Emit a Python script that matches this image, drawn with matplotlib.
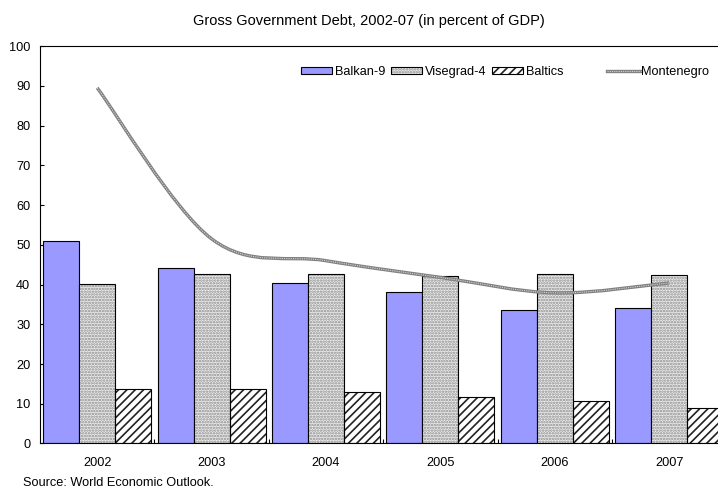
import numpy as np
import matplotlib
matplotlib.use("Agg")
import matplotlib.pyplot as plt
from matplotlib.path import Path
from matplotlib.patches import PathPatch, Patch
from matplotlib.lines import Line2D
from matplotlib.legend_handler import HandlerTuple

plt.rcParams["font.family"] = ["Liberation Sans", "DejaVu Sans"]
plt.rcParams["font.size"] = 9.2
plt.rcParams["hatch.linewidth"] = 1.2

years = ["2002", "2003", "2004", "2005", "2006", "2007"]
balkan9 = [51.0, 44.1, 40.5, 38.0, 33.5, 34.0]
visegrad4 = [40.1, 42.6, 42.6, 42.1, 42.7, 42.4]
baltics = [13.6, 13.6, 12.9, 11.6, 10.6, 8.9]
montenegro = [89.5, 51.5, 46.0, 41.8, 37.9, 40.4]

BLUE = "#9999ff"
W = 0.315

fig = plt.figure(figsize=(7.18, 4.90), dpi=100)
# plot area runs a little past the right edge of the figure
ax = fig.add_axes([0.0557, 0.0949, 0.956, 0.811])

x = np.arange(len(years))


def hatched_bars(xpos, vals, face, hatch, hcolor):
    # fill + hatch first, then a plain black outline on top
    ax.bar(xpos, vals, W, color=face, hatch=hatch, edgecolor=hcolor,
           linewidth=0, zorder=2)
    ax.bar(xpos, vals, W, facecolor="none", edgecolor="black",
           linewidth=0.8, zorder=3)


ax.bar(x - W, balkan9, W, color=BLUE, edgecolor="black", linewidth=0.8, zorder=2)
hatched_bars(x, visegrad4, "#ececec", "......", "#8c8c8c")
hatched_bars(x + W, baltics, "white", "////", "#222222")


def smooth_path(xs, ys):
    # Catmull-Rom segments written as cubic Bezier curves
    pts = np.column_stack([xs, ys]).astype(float)
    ext = np.vstack([pts[0], pts, pts[-1]])
    verts = [tuple(pts[0])]
    codes = [Path.MOVETO]
    for i in range(1, len(ext) - 2):
        p0, p1, p2, p3 = ext[i - 1], ext[i], ext[i + 1], ext[i + 2]
        verts += [tuple(p1 + (p2 - p0) / 6), tuple(p2 - (p3 - p1) / 6), tuple(p2)]
        codes += [Path.CURVE4] * 3
    return Path(verts, codes)


mpath = smooth_path(x, montenegro)
ax.add_patch(PathPatch(mpath, facecolor="none", edgecolor="#808080",
                       linewidth=2.4, zorder=4, capstyle="butt"))
ax.add_patch(PathPatch(mpath, facecolor="none", edgecolor="#d4d4d4",
                       linewidth=0.8, linestyle=(0, (1, 1)), zorder=5))

ax.set_xlim(-0.5, len(years) - 0.5)
ax.set_ylim(0, 100)
ax.set_yticks(range(0, 101, 10))
ax.set_xticks(x)
ax.set_xticklabels(years)
ax.set_xticks(np.arange(0.5, len(years) - 0.5, 1), minor=True)
ax.tick_params(axis="x", which="major", length=0, pad=10)
ax.tick_params(axis="x", which="minor", direction="in", length=3, width=0.8)
ax.tick_params(axis="y", direction="in", length=3, width=0.8, pad=7)
for s in ax.spines.values():
    s.set_linewidth(0.8)

# legend: bars on one row, the line entry set apart on the right
overlay = {tuple: HandlerTuple(ndivide=1, pad=0)}
bar_handles = [
    Patch(facecolor=BLUE, edgecolor="black", linewidth=0.8),
    (Patch(facecolor="#ececec", hatch="......", edgecolor="#8c8c8c", linewidth=0),
     Patch(facecolor="none", edgecolor="black", linewidth=0.8)),
    (Patch(facecolor="white", hatch="////", edgecolor="#222222", linewidth=0),
     Patch(facecolor="none", edgecolor="black", linewidth=0.8)),
]
fig.legend(bar_handles, ["Balkan-9", "Visegrad-4", "Baltics"],
           ncol=3, loc="center left", bbox_to_anchor=(0.419, 0.853),
           frameon=False, borderpad=0, borderaxespad=0,
           handlelength=2.45, handleheight=0.4, handletextpad=0.25,
           columnspacing=0.4, handler_map=overlay)
line_handle = (Line2D([], [], color="#808080", linewidth=2.4),
               Line2D([], [], color="#d4d4d4", linewidth=0.8, linestyle=(0, (1, 1))))
fig.legend([line_handle], ["Montenegro"], loc="center left",
           bbox_to_anchor=(0.846, 0.853), frameon=False, borderpad=0,
           borderaxespad=0, handlelength=2.6, handletextpad=0.05,
           handler_map=overlay)

fig.text(0.514, 0.957, "Gross Government Debt, 2002-07 (in percent of GDP)",
         ha="center", va="center", fontsize=10.5)
fig.text(0.032, 0.0143, "Source: World Economic Outlook.", ha="left",
         va="center", fontsize=9.2)

fig.savefig("out.png", dpi=100)
